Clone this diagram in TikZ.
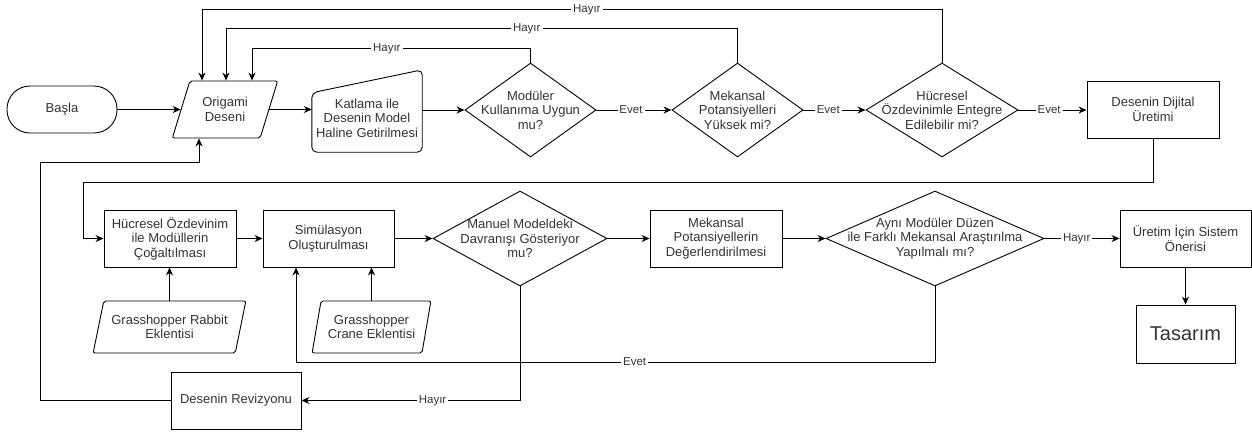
\documentclass[tikz,border=0pt]{standalone}
\usepackage{fontspec}
\setmainfont{Liberation Sans}
\usetikzlibrary{shapes.geometric,arrows.meta,calc}
\definecolor{txtc}{RGB}{51,51,51}
\begin{document}
\begin{tikzpicture}[x=1pt,y=-1pt,
  base/.style={draw=black, line width=0.9pt, inner sep=2pt, align=center, text=txtc, font=\fontsize{13}{14.5}\selectfont},
  boxs/.style={base, rectangle},
  term/.style={base, rectangle, rounded corners=23pt},
  para/.style={base, trapezium, trapezium stretches=true, rounded corners=2pt},
  dec/.style={base, diamond, inner sep=0pt},
  txt/.style={inner sep=0pt, align=center, text=txtc, font=\fontsize{13}{14.5}\selectfont},
  lbl/.style={fill=white, inner sep=2pt, text=txtc, font=\fontsize{11.5}{13}\selectfont},
  ln/.style={draw=black, line width=0.9pt},
  arr/.style={ln, -{Stealth[length=8pt,width=7pt]}}
]
\useasboundingbox (0,0) rectangle (1252,432);

% top row
\node[term, minimum width=110pt, minimum height=47pt] (basla) at (62,109.5) {Başla};
\node[para, trapezium left angle=66.3, trapezium right angle=113.7, minimum width=106pt, minimum height=57pt] (orig) at (225,109.5) {Origami\\Deseni};
\node[inner sep=0pt, minimum width=110pt, minimum height=82pt] (katla) at (367,111) {};
\draw[ln, rounded corners=5pt] (katla.south west) -- (katla.south east) -- (katla.north east) -- ($(katla.north west)+(0,23)$) -- cycle;
\node[txt] (katlat) at (367,118) {Katlama ile\\Desenin Model\\Haline Getirilmesi};
\node[dec, minimum width=131pt, minimum height=94pt] (d1) at (530.5,110) {};
\node[txt] (d1t) at (d1) {Modüler\\Kullanıma Uygun\\mu?};
\node[dec, minimum width=131pt, minimum height=94pt] (d2) at (737.5,110) {};
\node[txt] (d2t) at (d2) {Mekansal\\Potansiyelleri\\Yüksek mi?};
\node[dec, minimum width=152pt, minimum height=94pt] (d3) at (942,110) {};
\node[txt] (d3t) at (d3) {Hücresel\\Özdevinimle Entegre\\Edilebilir mi?};
\node[boxs, minimum width=132pt, minimum height=57pt] (dij) at (1153,109.5) {Desenin Dijital\\Üretimi};

% second row
\node[boxs, minimum width=132pt, minimum height=57pt] (hucre) at (170,238.5) {Hücresel Özdevinim\\ile Modüllerin\\Çoğaltılması};
\node[boxs, minimum width=131pt, minimum height=57pt] (sim) at (328.5,238.5) {Simülasyon\\Oluşturulması};
\node[dec, minimum width=174pt, minimum height=95pt] (d4) at (520,238.5) {};
\node[txt] (d4t) at (d4) {Manuel Modeldeki\\Davranışı Gösteriyor\\mu?};
\node[boxs, minimum width=132pt, minimum height=57pt] (mek) at (716,238.5) {Mekansal\\Potansiyellerin\\Değerlendirilmesi};
\node[dec, minimum width=218pt, minimum height=95pt] (d5) at (935,238.5) {};
\node[txt] (d5t) at (d5) {Aynı Modüler Düzen\\ile Farklı Mekansal Araştırılma\\Yapılmalı mı?};
\node[boxs, minimum width=131pt, minimum height=57pt] (uret) at (1185.5,238.5) {Üretim İçin Sistem\\Önerisi};
\node[boxs, minimum width=99pt, minimum height=58pt, font=\fontsize{20}{22}\selectfont] (tas) at (1185.5,334) {Tasarım};

% inputs
\node[para, trapezium left angle=70.9, trapezium right angle=109.1, minimum width=153pt, minimum height=52pt] (rabbit) at (169.5,327) {Grasshopper Rabbit\\Eklentisi};
\node[para, trapezium left angle=73.9, trapezium right angle=106.1, minimum width=119pt, minimum height=52pt] (crane) at (371.5,327) {Grasshopper\\Crane Eklentisi};
\node[boxs, minimum width=130pt, minimum height=57pt] (rev) at (236,400.5) {Desenin Revizyonu};

% helper coordinates
\path (orig.center) ++(-23,0) coordinate (oa) ++(24,0) coordinate (ob) ++(26,0) coordinate (oc);
\path (orig.center) ++(-26,0) coordinate (od);
\path (sim.center) ++(-32.5,0) coordinate (sa);
\coordinate (c1) at (83,182);
\coordinate (c2) at (40,162);
\coordinate (c3) at (296,362);

% top row connectors
\draw[arr] (basla) -- (orig);
\draw[arr] (orig.east) -- (orig.east -| katla.west);
\draw[arr] (katla.east |- d1.west) -- (d1.west);
\draw[arr] (d1.east) -- node[lbl,pos=0.46]{Evet} (d2.west);
\draw[arr] (d2.east) -- node[lbl,pos=0.4]{Evet} (d3.west);
\draw[arr] (d3.east) -- node[lbl,pos=0.45]{Evet} (d3.east -| dij.west);

% loops back
\draw[arr] (d3.north) -- ++(0,-53) -| node[lbl,pos=0.24]{Hayır} (oa |- orig.north);
\draw[arr] (d2.north) -- ++(0,-34) -| node[lbl,pos=0.206]{Hayır} (ob |- orig.north);
\draw[arr] (d1.north) -- ++(0,-14) -| node[lbl,pos=0.258]{Hayır} (oc |- orig.north);

\draw[arr] (dij.south) |- (c1) |- (hucre.west);

% second row connectors
\draw[arr] (hucre) -- (sim);
\draw[arr] (sim) -- (d4);
\draw[arr] (d4) -- (mek);
\draw[arr] (mek) -- (d5);
\draw[arr] (d5) -- node[lbl,pos=0.43]{Hayır} (uret);
\draw[arr] (uret) -- (tas);
\draw[arr] (rabbit.north) -- (rabbit.north |- hucre.south);
\draw[arr] (crane.north) -- (crane.north |- sim.south);

\draw[arr] (d5.south) |- node[lbl,pos=0.735]{Evet} (c3) -- (sa |- sim.south);
\draw[arr] (d4.south) |- node[lbl,pos=0.70]{Hayır} (rev.east);
\draw[arr] (rev.west) -| (c2) -| (od |- orig.south);
\end{tikzpicture}
\end{document}
